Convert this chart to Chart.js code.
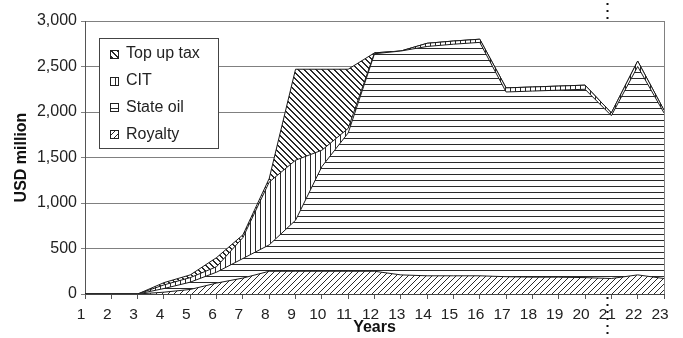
<!DOCTYPE html>
<html>
<head>
<meta charset="utf-8">
<script src="https://cdn.jsdelivr.net/npm/chart.js@4.4.1/dist/chart.umd.min.js"></script>
<style>
    html, body { margin: 0; padding: 0; background: #fff; }
    #wrap { width: 683px; height: 338px; }
</style>
</head>
<body>
<div id="wrap"><canvas id="myChart" width="683" height="338"></canvas></div>
<script>
const years = ['1', '2', '3', '4', '5', '6', '7', '8', '9', '10', '11', '12',
    '13', '14', '15', '16', '17', '18', '19', '20', '21', '22', '23'];

// USD million per year, each stacked on the one before
const royalty  = [0, 0, 0, 20, 50, 120, 175, 250, 250, 250, 250, 250, 210, 200, 200, 200, 190, 185, 185, 180, 170, 210, 170];
const stateOil = [0, 0, 0, 40, 80, 120, 215, 290, 560, 1150, 1520, 2390, 2460, 2520, 2545, 2565, 2030, 2045, 2055, 2070, 1790, 2290, 1820];
const cit      = [0, 0, 0, 40, 50, 60, 230, 690, 660, 180, 50, 10, 0, 35, 35, 35, 45, 45, 45, 45, 30, 60, 30];
const topUpTax = [0, 0, 0, 25, 30, 100, 30, 40, 1000, 890, 650, 0, 0, 0, 0, 0, 0, 0, 0, 0, 0, 0, 0];

const yTicks = [0, 500, 1000, 1500, 2000, 2500, 3000];
const markedYear = '21';

const FONT = "'Liberation Sans', Arial, sans-serif";

// hatch fills, built pixel by pixel so they stay crisp
const makePattern = (kind) => {
    const s = kind === 'vertical' ? 5 : 6;
    const c = document.createElement('canvas');
    c.width = s;
    c.height = s;
    const g = c.getContext('2d');
    g.fillStyle = '#fff';
    g.fillRect(0, 0, s, s);
    g.fillStyle = '#2a2a2a';
    for (let x = 0; x < s; x++) {
        for (let y = 0; y < s; y++) {
            let on = false;
            if (kind === 'horizontal') on = y === 0;
            if (kind === 'vertical') on = x === 0;
            if (kind === 'forward') on = (x + y) % s === s - 1;
            if (kind === 'back') on = ((x - y) % s + s) % s === 0 || ((x - y) % s + s) % s === 1;
            if (on) g.fillRect(x, y, 1, 1);
        }
    }
    return g.createPattern(c, 'repeat');
};

const patterns = {
    royalty: makePattern('forward'),
    stateOil: makePattern('horizontal'),
    cit: makePattern('vertical'),
    topUp: makePattern('back')
};

const legendItems = [
    { text: 'Top up tax', fill: patterns.topUp },
    { text: 'CIT', fill: patterns.cit },
    { text: 'State oil', fill: patterns.stateOil },
    { text: 'Royalty', fill: patterns.royalty }
];

// boxed legend inside the plot, plot frame and the dotted year marker
const extras = {
    id: 'extras',
    afterDraw(chart) {
        const ctx = chart.ctx;
        const area = chart.chartArea;
        ctx.save();

        ctx.strokeStyle = '#808080';
        ctx.lineWidth = 1;
        ctx.beginPath();
        ctx.moveTo(area.right + 0.5, area.top);
        ctx.lineTo(area.right + 0.5, area.bottom);
        ctx.stroke();

        const bx = 99, by = 38, bw = 119, bh = 110;
        ctx.fillStyle = '#fff';
        ctx.fillRect(bx, by, bw, bh);
        ctx.strokeStyle = '#444';
        ctx.strokeRect(bx + 0.5, by + 0.5, bw, bh);

        ctx.font = '16px ' + FONT;
        ctx.textBaseline = 'middle';
        legendItems.forEach((item, i) => {
            const cy = 54 + i * 26.7;
            ctx.fillStyle = item.fill;
            ctx.fillRect(110, Math.round(cy) - 4, 9, 9);
            ctx.strokeStyle = '#222';
            ctx.strokeRect(110.5, Math.round(cy) - 3.5, 8, 8);
            ctx.fillStyle = '#222';
            ctx.fillText(item.text, 126, cy);
        });

        const x = Math.round(chart.scales.x.getPixelForValue(years.indexOf(markedYear))) - 3.5;
        ctx.strokeStyle = '#111';
        ctx.lineWidth = 2;
        ctx.setLineDash([2, 5]);
        ctx.beginPath();
        ctx.moveTo(x, 3);
        ctx.lineTo(x, area.top - 1);
        ctx.moveTo(x, area.bottom + 3);
        ctx.lineTo(x, 338);
        ctx.stroke();
        ctx.restore();
    }
};

const areaSet = (label, data, fill, fillTo) => ({
    label: label,
    data: data,
    backgroundColor: fill,
    borderColor: '#1a1a1a',
    borderWidth: 1,
    pointRadius: 0,
    tension: 0,
    fill: fillTo
});

const ctx = document.getElementById('myChart');
new Chart(ctx, {
    type: 'line',
    data: {
        labels: years,
        datasets: [
            areaSet('Royalty', royalty, patterns.royalty, 'origin'),
            areaSet('State oil', stateOil, patterns.stateOil, '-1'),
            areaSet('CIT', cit, patterns.cit, '-1'),
            areaSet('Top up tax', topUpTax, patterns.topUp, '-1')
        ]
    },
    options: {
        responsive: false,
        animation: false,
        layout: {
            padding: { top: 21, right: 19, left: 12, bottom: 1 }
        },
        plugins: {
            legend: { display: false },
            tooltip: { enabled: false }
        },
        scales: {
            x: {
                offset: false,
                afterFit: (scale) => { scale.height = 43; },
                grid: {
                    drawOnChartArea: false,
                    tickLength: 5,
                    color: '#555'
                },
                border: { color: '#444', width: 1 },
                ticks: {
                    autoSkip: false,
                    maxRotation: 0,
                    padding: 6,
                    labelOffset: -4,
                    color: '#222',
                    font: { family: FONT, size: 15.5 }
                },
                title: {
                    display: true,
                    text: 'Years',
                    color: '#111',
                    padding: 0,
                    font: { family: FONT, size: 16, weight: 'bold' }
                }
            },
            y: {
                stacked: true,
                min: 0,
                max: 3000,
                afterFit: (scale) => { scale.width = 73; },
                afterBuildTicks: (scale) => {
                    scale.ticks = yTicks.map(v => ({ value: v }));
                },
                grid: {
                    color: '#808080',
                    lineWidth: 1,
                    tickLength: 4
                },
                border: { color: '#555', width: 1 },
                ticks: {
                    padding: 4,
                    color: '#222',
                    font: { family: FONT, size: 16 },
                    callback: (v) => v.toLocaleString('en-US')
                },
                title: {
                    display: true,
                    text: 'USD million',
                    color: '#111',
                    padding: 0,
                    font: { family: FONT, size: 16, weight: 'bold' }
                }
            }
        }
    },
    plugins: [extras]
});
</script>
</body>
</html>
